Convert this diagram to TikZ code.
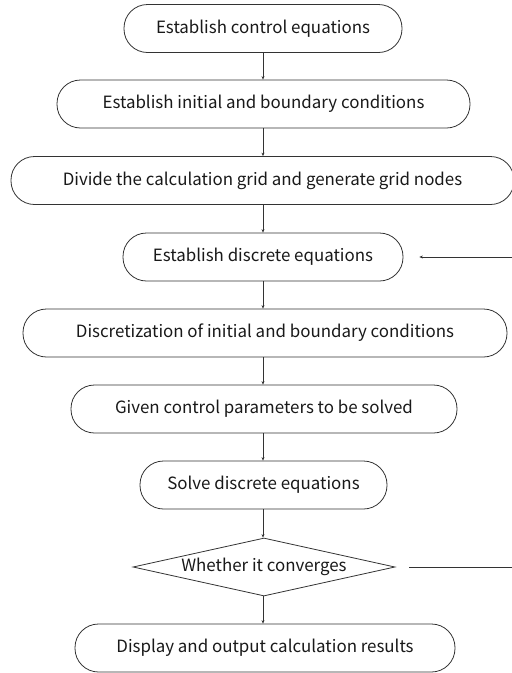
\documentclass[tikz,border=0pt]{standalone}
\usepackage{fontspec}
\setmainfont{Noto Sans CJK SC}
\usetikzlibrary{shapes.geometric,arrows.meta}
\begin{document}
\begin{tikzpicture}[x=1pt,y=-1pt,
  box/.style={draw=black!80,line width=0.8pt,rounded corners=23.5pt,minimum height=48pt,inner sep=0pt,font=\fontsize{16.9}{20}\selectfont,text=black!90},
  dia/.style={draw=black!80,line width=0.8pt,diamond,aspect=4.5,inner sep=0pt,font=\fontsize{16.9}{20}\selectfont,text=black!90},
  arr/.style={draw=black!80,line width=0.8pt,-{Stealth[length=3.5pt,width=3pt]}},
  ln/.style={draw=black!80,line width=0.8pt}]
\useasboundingbox (0,0) rectangle (512,673);
\node[box,minimum width=278pt] (n1) at (263,28.5) {Establish control equations};
\node[box,minimum width=413pt] (n2) at (263.5,104) {Establish initial and boundary conditions};
\node[box,minimum width=503pt] (n3) at (262.5,180.5) {Divide the calculation grid and generate grid nodes};
\node[box,minimum width=280pt] (n4) at (263,257) {Establish discrete equations};
\node[box,minimum width=484pt] (n5) at (265,333) {Discretization of initial and boundary conditions};
\node[box,minimum width=386pt] (n6) at (264,409) {Given control parameters to be solved};
\node[box,minimum width=247pt] (n7) at (263.5,485) {Solve discrete equations};
\node[dia,minimum width=262pt,minimum height=58pt] (d) at (264,567) {Whether it converges};
\node[box,minimum width=380pt] (n8) at (265,648) {Display and output calculation results};
\draw[arr] (n1.south) -- (n1.south |- n2.north);
\draw[arr] (n2.south -| n1.south) -- (n1.south |- n3.north);
\draw[arr] (n3.south -| n1.south) -- (n1.south |- n4.north);
\draw[arr] (n4.south -| n1.south) -- (n1.south |- n5.north);
\draw[arr] (n5.south -| n1.south) -- (n1.south |- n6.north);
\draw[arr] (n6.south -| n1.south) -- (n1.south |- n7.north);
\draw[arr] (n7.south -| n1.south) -- (n1.south |- d.north);
\draw[arr] (d.south -| n1.south) -- (n1.south |- n8.north);
\coordinate (r1) at (514,567);
\coordinate (r2) at (514,257);
\draw[arr] ([xshift=14pt]d.east) -- (r1) -- (r2) -- ([xshift=16pt]n4.east);
\end{tikzpicture}
\end{document}
